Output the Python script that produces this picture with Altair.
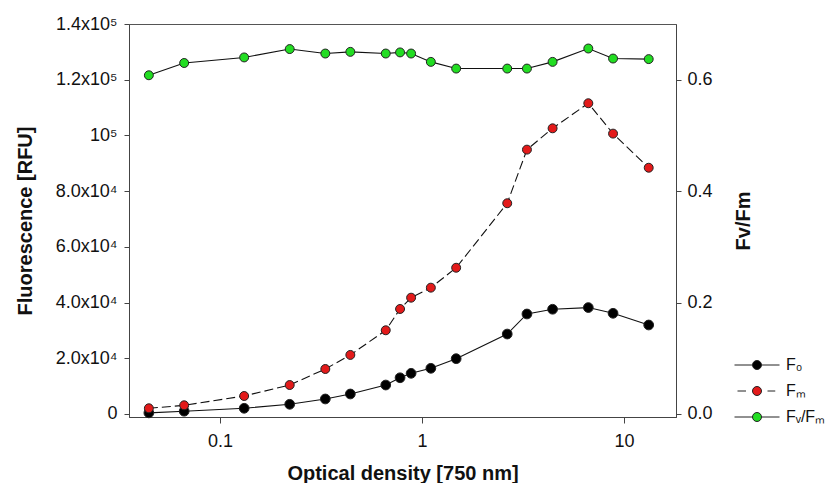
import altair as alt
import pandas as pd

# Optical density [750 nm]
od = [0.0444, 0.0664, 0.1316, 0.2212, 0.332, 0.4416, 0.6613, 0.7785, 0.883,
      1.106, 1.476, 2.642, 3.308, 4.432, 6.66, 8.83, 13.26]
# Fluorescence [RFU]
f0 = [400, 1000, 2050, 3480, 5390, 7180, 10400, 13000, 14600,
      16400, 19850, 28700, 35900, 37600, 38200, 36150, 31950]
fm = [2050, 3120, 6460, 10400, 16150, 21200, 30050, 37700, 41750,
      45350, 52500, 75650, 94900, 102550, 111550, 100650, 88400]
# Fv/Fm
fvfm = [0.608, 0.630, 0.640, 0.655, 0.647, 0.650, 0.647, 0.649, 0.647,
        0.632, 0.620, 0.620, 0.620, 0.632, 0.656, 0.638, 0.637]

series_names = ["F₀", "Fₘ", "Fᵥ/Fₘ"]
colors = ["#000000", "#e31a1a", "#22dd22"]

long = pd.DataFrame({
    "od": od * 3,
    "value": f0 + fm + fvfm,
    "series": [series_names[0]] * len(od) + [series_names[1]] * len(od) + [series_names[2]] * len(od),
})

circle = "M0.9,0A0.9,0.9,0,1,1,-0.9,0A0.9,0.9,0,1,1,0.9,0Z"
sym_solid = "M-4.5,0L-0.9,0M0.9,0L4.5,0" + circle
sym_dash = "M-3.9,0L-2.2,0M2.1,0L3.65,0" + circle

x = alt.X("od:Q",
          scale=alt.Scale(type="log", domain=[0.0354, 18.1], nice=False),
          axis=alt.Axis(values=[0.1, 1, 10], format="~g", title="Optical density [750 nm]",
                        tickSize=6, labelPadding=9, titlePadding=13))

left_label = ("datum.value == 0 ? '0' : datum.value == 100000 ? '10⁵' : "
              "datum.value > 100000 ? format(datum.value / 100000, '.1f') + 'x10⁵' : "
              "format(datum.value / 10000, '.1f') + 'x10⁴'")

yL = alt.Y("value:Q",
           scale=alt.Scale(domain=[-1080, 140000], nice=False, zero=False),
           axis=alt.Axis(values=[0, 20000, 40000, 60000, 80000, 100000, 120000, 140000],
                         labelExpr=left_label, title="Fluorescence [RFU]",
                         tickSize=5, labelPadding=7, titlePadding=20))
yR = alt.Y("value:Q",
           scale=alt.Scale(domain=[-0.0054, 0.7], nice=False, zero=False),
           axis=alt.Axis(orient="right", values=[0, 0.2, 0.4, 0.6], format=".1f", title="Fv/Fm",
                         titleAngle=270, tickSize=5, labelPadding=6, titlePadding=41))

base = alt.Chart(long)

def sel(name):
    return base.transform_filter(alt.datum.series == name)

line_f0 = sel(series_names[0]).mark_line(color="#111", strokeWidth=1.1).encode(x=x, y=yL)
line_fm = sel(series_names[1]).mark_line(color="#111", strokeWidth=1.1, strokeDash=[9, 4]).encode(x=x, y=yL)
pts_f0 = sel(series_names[0]).mark_point(filled=True, shape="circle", size=95, fill=colors[0],
                                         stroke="#222", strokeWidth=1, opacity=1).encode(x=x, y=yL)
pts_fm = sel(series_names[1]).mark_point(filled=True, shape="circle", size=80, fill=colors[1],
                                         stroke="#222", strokeWidth=1, opacity=1).encode(x=x, y=yL)

legend_cfg = dict(title=None, orient="none", legendX=620, legendY=333, labelFontSize=16,
                  labelOffset=21, symbolOpacity=1, symbolStrokeWidth=1,
                  rowPadding=10, padding=0, labelColor="#111")
legend_layer = base.mark_point(filled=True, size=100, opacity=0, strokeWidth=1).encode(
    x=x, y=yL,
    fill=alt.Fill("series:N", scale=alt.Scale(domain=series_names, range=colors),
                  legend=alt.Legend(**legend_cfg)),
    stroke=alt.Stroke("series:N", scale=alt.Scale(domain=series_names, range=["#222", "#222", "#222"]),
                      legend=alt.Legend(**legend_cfg)),
    shape=alt.Shape("series:N", scale=alt.Scale(domain=series_names, range=[sym_solid, sym_dash, sym_solid]),
                    legend=alt.Legend(**legend_cfg)),
)

line_fv = sel(series_names[2]).mark_line(color="#111", strokeWidth=1.1).encode(x=x, y=yR)
pts_fv = sel(series_names[2]).mark_point(filled=True, shape="circle", size=80, fill=colors[2],
                                         stroke="#222", strokeWidth=1, opacity=1).encode(x=x, y=yR)

left = alt.layer(line_f0, line_fm, pts_f0, pts_fm, legend_layer)
right = alt.layer(line_fv, pts_fv)

chart = alt.layer(left, right).resolve_scale(y="independent").properties(
    width=547, height=393,
    padding={"left": 121, "top": 16, "right": 150, "bottom": 66},
    autosize=alt.AutoSizeParams(type="none"),
).configure(font="Liberation Sans").configure_view(stroke="#555", strokeWidth=1).configure_axis(
    grid=False, domainColor="#444", tickColor="#444", labelColor="#111", titleColor="#111",
    labelFontSize=18, titleFontSize=20, titleFontWeight="bold", labelFont="Liberation Sans",
    titleFont="Liberation Sans",
)

chart.save("out.html", embed_options={"renderer": "svg", "actions": False})
